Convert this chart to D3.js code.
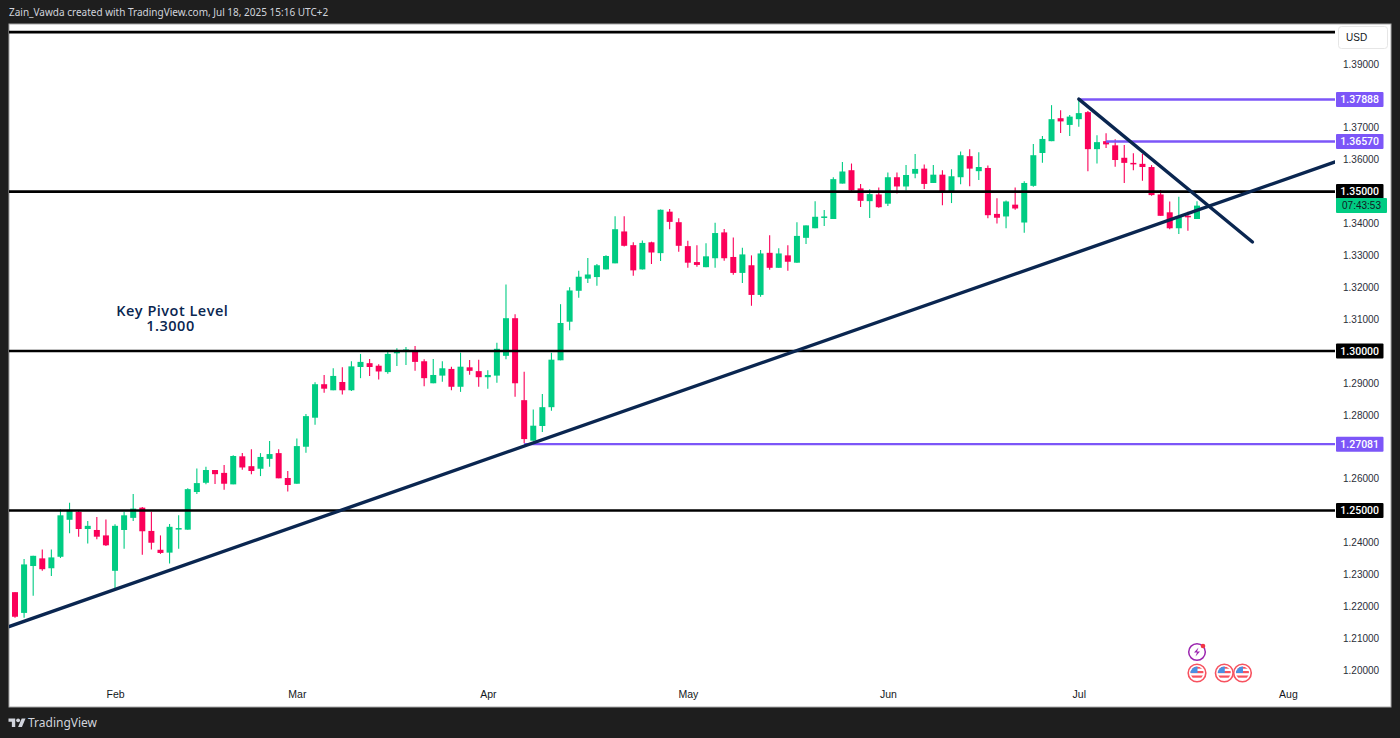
<!DOCTYPE html>
<html>
<head>
<meta charset="utf-8">
<script src="https://cdn.jsdelivr.net/npm/d3@7"></script>
<style>
  html, body { margin: 0; padding: 0; background: #1e1e1e; }
  svg { display: block; }
  text { font-family: "Liberation Sans", sans-serif; }
</style>
</head>
<body>
<div id="chart"></div>
<script>
// daily candles GBP/USD style, index 0 = first candle on the chart
var opens = [1.2244,1.2179,1.2326,1.2350,1.2319,1.2355,1.2471,1.2496,1.2442,1.2439,1.2422,1.2311,1.2439,1.2477,1.2509,1.2436,1.2377,1.2368,1.2443,1.2440,
  1.2558,1.2587,1.2627,1.2618,1.2582,1.2670,1.2639,1.2631,1.2662,1.2680,1.2602,1.2584,1.2700,1.2791,1.2896,1.2877,1.2903,1.2877,1.2950,1.2962,
  1.2954,1.2934,1.2993,1.3003,1.3000,1.2968,1.2899,1.2923,1.2944,1.2888,1.2949,1.2937,1.2918,1.2923,1.2985,1.3103,1.2846,1.2719,1.2765,1.2824,
  1.2971,1.3092,1.3189,1.3227,1.3232,1.3256,1.3275,1.3375,1.3332,1.3256,1.3341,1.3307,1.3437,1.3404,1.3329,1.3279,1.3263,1.3291,1.3372,1.3295,
  1.3245,1.3269,1.3176,1.3308,1.3261,1.3300,1.3277,1.3355,1.3385,1.3418,1.3414,1.3525,1.3567,1.3510,1.3470,1.3491,1.3462,1.3545,1.3516,1.3556,
  1.3572,1.3527,1.3553,1.3499,1.3545,1.3611,1.3564,1.3574,1.3430,1.3422,1.3459,1.3403,1.3518,1.3621,1.3658,1.3730,1.3709,1.3727,1.3749,1.3633,
  1.3658,1.3645,1.3606,1.3590,1.3587,1.3577,1.3491,1.3435,1.3385,1.3424,1.3414];
var highs = [1.2244,1.2348,1.2358,1.2378,1.2378,1.2504,1.2524,1.2502,1.2467,1.2480,1.2472,1.2457,1.2496,1.2552,1.2511,1.2496,1.2422,1.2458,1.2485,1.2570,
  1.2632,1.2637,1.2627,1.2643,1.2673,1.2680,1.2692,1.2680,1.2718,1.2692,1.2624,1.2726,1.2803,1.2902,1.2925,1.2946,1.2949,1.2968,1.2991,1.2975,
  1.2959,1.3000,1.3009,1.3013,1.3016,1.2974,1.2975,1.2968,1.2951,1.2995,1.2972,1.2973,1.2940,1.3026,1.3209,1.3115,1.2935,1.2817,1.2865,1.2995,
  1.3147,1.3200,1.3252,1.3292,1.3273,1.3300,1.3423,1.3423,1.3341,1.3347,1.3343,1.3444,1.3445,1.3416,1.3346,1.3332,1.3338,1.3402,1.3383,1.3356,
  1.3324,1.3300,1.3317,1.3363,1.3322,1.3332,1.3404,1.3394,1.3470,1.3442,1.3545,1.3593,1.3588,1.3524,1.3507,1.3513,1.3560,1.3560,1.3583,1.3618,
  1.3585,1.3583,1.3567,1.3570,1.3626,1.3633,1.3623,1.3582,1.3479,1.3472,1.3513,1.3532,1.3649,1.3674,1.3771,1.3755,1.3740,1.3790,1.3753,1.3677,
  1.3683,1.3664,1.3646,1.3620,1.3618,1.3583,1.3505,1.3469,1.3484,1.3437,1.3470];
var lows = [1.2164,1.2164,1.2233,1.2311,1.2295,1.2351,1.2429,1.2418,1.2397,1.2410,1.2389,1.2253,1.2380,1.2467,1.2361,1.2378,1.2364,1.2334,1.2380,1.2440,
  1.2552,1.2582,1.2583,1.2565,1.2582,1.2628,1.2614,1.2608,1.2637,1.2601,1.2560,1.2584,1.2681,1.2769,1.2869,1.2877,1.2864,1.2875,1.2915,1.2922,
  1.2911,1.2929,1.2953,1.2956,1.2938,1.2890,1.2899,1.2904,1.2877,1.2872,1.2926,1.2888,1.2882,1.2901,1.2974,1.2857,1.2711,1.2719,1.2746,1.2813,
  1.2971,1.3065,1.3167,1.3213,1.3205,1.3256,1.3275,1.3328,1.3236,1.3256,1.3273,1.3282,1.3382,1.3311,1.3261,1.3264,1.3263,1.3261,1.3283,1.3239,
  1.3213,1.3142,1.3170,1.3255,1.3261,1.3252,1.3277,1.3336,1.3385,1.3392,1.3414,1.3525,1.3502,1.3452,1.3417,1.3449,1.3455,1.3494,1.3503,1.3542,
  1.3508,1.3527,1.3457,1.3464,1.3523,1.3517,1.3536,1.3416,1.3400,1.3385,1.3443,1.3371,1.3515,1.3590,1.3658,1.3684,1.3674,1.3703,1.3564,1.3588,
  1.3637,1.3578,1.3527,1.3567,1.3534,1.3487,1.3424,1.3382,1.3367,1.3377,1.3414];
var closes = [1.2167,1.2331,1.2358,1.2316,1.2353,1.2485,1.2502,1.2442,1.2452,1.2418,1.2391,1.2452,1.2485,1.2506,1.2435,1.2399,1.2367,1.2449,1.2445,1.2567,
  1.2586,1.2627,1.2614,1.2584,1.2671,1.2635,1.2624,1.2668,1.2677,1.2601,1.2580,1.2702,1.2796,1.2896,1.2882,1.2922,1.2877,1.2952,1.2966,1.2950,
  1.2936,1.2991,1.3003,1.3005,1.2966,1.2915,1.2925,1.2946,1.2888,1.2951,1.2938,1.2918,1.2925,1.3007,1.3103,1.2899,1.2724,1.2766,1.2824,1.2973,
  1.3088,1.3190,1.3233,1.3240,1.3269,1.3298,1.3382,1.3330,1.3253,1.3339,1.3309,1.3443,1.3405,1.3330,1.3277,1.3270,1.3297,1.3370,1.3291,1.3245,
  1.3303,1.3176,1.3306,1.3261,1.3306,1.3280,1.3361,1.3394,1.3421,1.3422,1.3539,1.3563,1.3504,1.3471,1.3492,1.3451,1.3545,1.3516,1.3552,1.3571,
  1.3524,1.3553,1.3498,1.3548,1.3614,1.3572,1.3577,1.3426,1.3418,1.3469,1.3447,1.3527,1.3614,1.3665,1.3727,1.3720,1.3735,1.3746,1.3633,1.3655,
  1.3648,1.3599,1.3590,1.3586,1.3577,1.3489,1.3424,1.3385,1.3420,1.3420,1.3456];

var monthLabels = ['Feb', 'Mar', 'Apr', 'May', 'Jun', 'Jul', 'Aug'];
var monthIndex = [11, 31, 52, 74, 96, 117, 140];

// 1.25, 1.27, 1.30 and 1.35 sit under their price tags so they are left out
var priceTicks = [1.20,1.21,1.22,1.23,1.24,1.26,1.28,1.29,1.31,1.32,1.33,1.34,1.36,1.37,1.38,1.39];

// horizontal levels
var blackLevels = [1.40, 1.35, 1.30, 1.25];
var blackTags = ['1.35000', '1.30000', '1.25000'];
var purplePrices = [1.37888, 1.36570, 1.27081];
var purpleStart = [117, 120, 56];

// trend lines, [candle index, price]
var riseLine = [[-0.66, 1.2136], [145.2, 1.3593]];
var fallLine = [[117, 1.3790], [136.1, 1.3342]];

var flagIndex = [130, 133, 135];

var svgWidth = 1400;
var svgHeight = 738;
var pane = { left: 9, right: 1335, top: 24, bottom: 707, edge: 1391 };

var green = '#00cc83';
var red = '#fb0059';
var navy = '#0a2650';
var purple = '#7c56f8';

var svg = d3.select('#chart')
  .append('svg')
  .attr('width', svgWidth)
  .attr('height', svgHeight);

var xScale = d3.scaleLinear().domain([0, 130]).range([15, 1197]);
var yScale = d3.scaleLinear().domain([1.20, 1.39]).range([670, 64]);

// background and pane
svg.append('rect')
  .attr('width', svgWidth)
  .attr('height', svgHeight)
  .attr('fill', '#1e1e1e');

svg.append('rect')
  .attr('x', pane.left)
  .attr('y', pane.top)
  .attr('width', pane.edge - pane.left)
  .attr('height', pane.bottom - pane.top)
  .attr('fill', '#ffffff')
  .attr('stroke', '#a8a8a8')
  .attr('stroke-width', 1);

var defs = svg.append('defs');
defs.append('clipPath').attr('id', 'plot')
  .append('rect')
  .attr('x', pane.left)
  .attr('y', pane.top)
  .attr('width', pane.right - pane.left)
  .attr('height', pane.bottom - pane.top);

// header and logo
svg.append('text')
  .attr('x', 9)
  .attr('y', 16)
  .attr('fill', '#d1d4dc')
  .style('font-family', '"Noto Sans", sans-serif')
  .style('font-size', '10px')
  .text('Zain_Vawda created with TradingView.com, Jul 18, 2025 15:16 UTC+2');

svg.append('path')
  .attr('transform', 'translate(8.5, 716.5) scale(0.48)')
  .attr('d', 'M14 22H7V11H0V4h14v18zM28 22h-8l7.5-18h8L28 22z')
  .attr('fill', '#d1d4dc');
svg.append('circle')
  .attr('transform', 'translate(8.5, 716.5) scale(0.48)')
  .attr('cx', 20)
  .attr('cy', 8)
  .attr('r', 4)
  .attr('fill', '#d1d4dc');
svg.append('text')
  .attr('x', 28)
  .attr('y', 727)
  .attr('fill', '#d1d4dc')
  .style('font-family', '"Noto Sans", sans-serif')
  .style('font-size', '12px')
  .text('TradingView');

// axes
var priceAxis = d3.axisRight(yScale)
  .tickValues(priceTicks)
  .tickFormat(d3.format('.5f'))
  .tickSize(0)
  .tickPadding(8);

var timeAxis = d3.axisBottom(xScale)
  .tickValues(monthIndex)
  .tickFormat(function(d, i) { return monthLabels[i]; })
  .tickSize(0)
  .tickPadding(4);

var priceGroup = svg.append('g')
  .attr('transform', `translate(${pane.right}, 0)`)
  .call(priceAxis);
priceGroup.select('.domain').remove();
priceGroup.selectAll('text')
  .attr('fill', '#2a2e39')
  .style('font-size', '10px');

var timeGroup = svg.append('g')
  .attr('transform', 'translate(0, 687)')
  .call(timeAxis);
timeGroup.select('.domain').remove();
timeGroup.selectAll('text')
  .attr('fill', '#131722')
  .style('font-size', '10.5px');

// candles
var candleIndex = d3.range(opens.length);
var candleGroup = svg.append('g').attr('clip-path', 'url(#plot)');

candleGroup.selectAll('.wick')
  .data(candleIndex)
  .enter()
  .append('line')
  .attr('class', 'wick')
  .attr('x1', d => xScale(d))
  .attr('x2', d => xScale(d))
  .attr('y1', d => yScale(highs[d]))
  .attr('y2', d => yScale(lows[d]))
  .attr('stroke', d => closes[d] >= opens[d] ? green : red)
  .attr('stroke-width', 1.1);

candleGroup.selectAll('.body')
  .data(candleIndex)
  .enter()
  .append('rect')
  .attr('class', 'body')
  .attr('x', d => xScale(d) - 3)
  .attr('width', 6)
  .attr('y', d => yScale(Math.max(opens[d], closes[d])))
  .attr('height', d => Math.max(1.5, Math.abs(yScale(opens[d]) - yScale(closes[d]))))
  .attr('fill', d => closes[d] >= opens[d] ? green : red);

// levels and trend lines
var lineGroup = svg.append('g').attr('clip-path', 'url(#plot)');

lineGroup.selectAll('.level')
  .data(blackLevels)
  .enter()
  .append('line')
  .attr('class', 'level')
  .attr('x1', pane.left)
  .attr('x2', pane.right)
  .attr('y1', d => yScale(d))
  .attr('y2', d => yScale(d))
  .attr('stroke', '#000000')
  .attr('stroke-width', 2.6);

lineGroup.selectAll('.pivot')
  .data(purplePrices)
  .enter()
  .append('line')
  .attr('class', 'pivot')
  .attr('x1', (d, i) => xScale(purpleStart[i]))
  .attr('x2', pane.right)
  .attr('y1', d => yScale(d))
  .attr('y2', d => yScale(d))
  .attr('stroke', purple)
  .attr('stroke-width', 2.4);

var trendLine = d3.line()
  .x(d => xScale(d[0]))
  .y(d => yScale(d[1]));

lineGroup.selectAll('.trend')
  .data([riseLine, fallLine])
  .enter()
  .append('path')
  .attr('class', 'trend')
  .attr('d', trendLine)
  .attr('fill', 'none')
  .attr('stroke', navy)
  .attr('stroke-width', 3.4)
  .attr('stroke-linecap', 'round');

// note on the chart
var note = svg.append('text')
  .attr('text-anchor', 'middle')
  .attr('fill', navy)
  .style('font-family', '"Open Sans", sans-serif')
  .style('font-size', '14.5px')
  .style('font-weight', 600)
  .style('letter-spacing', '0.5px');
note.append('tspan').attr('x', xScale(17.3)).attr('y', yScale(1.3110)).text('Key Pivot Level');
note.append('tspan').attr('x', xScale(17.1)).attr('y', yScale(1.3063)).text('1.3000');

// price tags
function priceTag(price, label, fill) {
  svg.append('rect')
    .attr('x', 1336)
    .attr('y', yScale(price) - 7.5)
    .attr('width', 47.5)
    .attr('height', 15)
    .attr('rx', 1)
    .attr('fill', fill);
  svg.append('text')
    .attr('x', 1359.7)
    .attr('y', yScale(price))
    .attr('dy', '0.36em')
    .attr('text-anchor', 'middle')
    .attr('fill', '#ffffff')
    .style('font-family', 'Roboto, sans-serif')
    .style('font-size', '10.5px')
    .style('font-weight', 500)
    .text(label);
}

purplePrices.forEach(function(p) { priceTag(p, d3.format('.5f')(p), purple); });
blackTags.forEach(function(t) { priceTag(+t, t, '#000000'); });

// countdown under the 1.35 tag
svg.append('rect')
  .attr('x', 1336)
  .attr('y', yScale(1.35) + 6.5)
  .attr('width', 51)
  .attr('height', 15)
  .attr('rx', 1)
  .attr('fill', green);
svg.append('text')
  .attr('x', 1361.5)
  .attr('y', yScale(1.35) + 14)
  .attr('dy', '0.36em')
  .attr('text-anchor', 'middle')
  .attr('fill', '#131722')
  .style('font-size', '10px')
  .text('07:43:53');

// currency button
svg.append('rect')
  .attr('x', 1338.5)
  .attr('y', 26.5)
  .attr('width', 49)
  .attr('height', 22)
  .attr('rx', 3)
  .attr('fill', '#ffffff')
  .attr('stroke', '#e6e6e6');
svg.append('text')
  .attr('x', 1346)
  .attr('y', 41)
  .attr('fill', '#131722')
  .style('font-size', '10px')
  .text('USD');

// economic event icons
var iconY = 673;
flagIndex.forEach(function(d, i) {
  var cx = xScale(d);
  var id = 'flag' + i;
  var clip = defs.append('clipPath').attr('id', id);
  clip.append('circle').attr('cx', cx).attr('cy', iconY).attr('r', 6.5);

  svg.append('circle')
    .attr('cx', cx)
    .attr('cy', iconY)
    .attr('r', 8.8)
    .attr('fill', '#ffffff')
    .attr('stroke', '#f7525f')
    .attr('stroke-width', 1.6);

  var flag = svg.append('g').attr('clip-path', `url(#${id})`);
  flag.append('rect').attr('x', cx - 7).attr('y', iconY - 7).attr('width', 14).attr('height', 14).attr('fill', '#ffffff');
  [-6.5, -2, 2.5].forEach(function(offset) {
    flag.append('rect').attr('x', cx - 7).attr('y', iconY + offset).attr('width', 14).attr('height', 2.2).attr('fill', '#f7525f');
  });
  flag.append('rect').attr('x', cx - 7).attr('y', iconY - 7).attr('width', 7.5).attr('height', 7).attr('fill', '#4a90e2');
});

var boltX = xScale(130);
svg.append('circle')
  .attr('cx', boltX)
  .attr('cy', 652)
  .attr('r', 8.3)
  .attr('fill', '#ffffff')
  .attr('stroke', '#9c27b0')
  .attr('stroke-width', 1.5);
svg.append('path')
  .attr('transform', `translate(${boltX}, 652)`)
  .attr('d', 'M1.5 -4.5 L-3 0.5 L0 0.5 L-1.5 4.5 L3 -0.5 L0 -0.5 Z')
  .attr('fill', '#9c27b0');
svg.append('circle')
  .attr('cx', boltX + 6)
  .attr('cy', 646)
  .attr('r', 2.3)
  .attr('fill', '#f23645');
</script>
</body>
</html>
